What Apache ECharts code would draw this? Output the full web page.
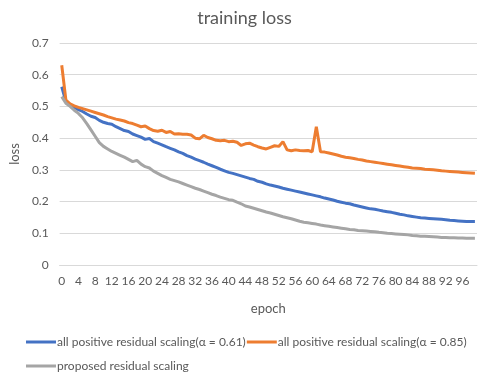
<!DOCTYPE html>
<html>
<head>
<meta charset="utf-8">
<script src="https://cdn.jsdelivr.net/npm/echarts@6/dist/echarts.min.js"></script>
<style>
html, body { margin: 0; padding: 0; background: #fff; }
#main { width: 489px; height: 378px; }
</style>
</head>
<body>
<div id="main"></div>
<script>
// 数据
var epochs = [];
for (var e = 0; e < 100; e++) epochs.push(String(e));

var blueName = 'all positive residual scaling(α = 0.61)';
var orangeName = 'all positive residual scaling(α = 0.85)';
var grayName = 'proposed residual scaling';

var blueLoss = [
  0.562, 0.515, 0.503, 0.497, 0.490, 0.484, 0.476, 0.469, 0.465, 0.456,
  0.450, 0.446, 0.444, 0.436, 0.430, 0.424, 0.421, 0.413, 0.408, 0.403,
  0.396, 0.399, 0.389, 0.384, 0.379, 0.373, 0.368, 0.363, 0.357, 0.352,
  0.345, 0.340, 0.334, 0.329, 0.324, 0.318, 0.313, 0.308, 0.302, 0.297,
  0.292, 0.289, 0.285, 0.281, 0.277, 0.273, 0.270, 0.264, 0.261, 0.256,
  0.252, 0.249, 0.246, 0.242, 0.239, 0.236, 0.233, 0.230, 0.227, 0.224,
  0.221, 0.218, 0.215, 0.211, 0.208, 0.205, 0.201, 0.198, 0.195, 0.193,
  0.189, 0.186, 0.183, 0.180, 0.177, 0.176, 0.173, 0.170, 0.168, 0.166,
  0.163, 0.160, 0.158, 0.155, 0.153, 0.151, 0.149, 0.148, 0.147, 0.146,
  0.145, 0.144, 0.143, 0.141, 0.140, 0.139, 0.138, 0.137, 0.137, 0.137
];

var orangeLoss = [
  0.630, 0.520, 0.508, 0.502, 0.497, 0.493, 0.489, 0.485, 0.481, 0.477,
  0.473, 0.468, 0.464, 0.460, 0.457, 0.454, 0.449, 0.446, 0.441, 0.436,
  0.438, 0.430, 0.424, 0.422, 0.425, 0.418, 0.421, 0.413, 0.414, 0.412,
  0.412, 0.410, 0.400, 0.398, 0.409, 0.402, 0.398, 0.393, 0.392, 0.393,
  0.389, 0.390, 0.387, 0.377, 0.382, 0.384, 0.378, 0.373, 0.369, 0.366,
  0.371, 0.376, 0.374, 0.389, 0.363, 0.360, 0.363, 0.361, 0.360, 0.361,
  0.357, 0.436, 0.357, 0.356, 0.353, 0.350, 0.347, 0.343, 0.340, 0.338,
  0.336, 0.333, 0.331, 0.328, 0.326, 0.324, 0.322, 0.320, 0.318, 0.316,
  0.314, 0.312, 0.310, 0.308, 0.306, 0.305, 0.304, 0.302, 0.301, 0.300,
  0.299, 0.297, 0.296, 0.295, 0.294, 0.293, 0.292, 0.291, 0.290, 0.289
];

var grayLoss = [
  0.531, 0.510, 0.500, 0.488, 0.478, 0.464, 0.446, 0.426, 0.406, 0.386,
  0.374, 0.366, 0.358, 0.352, 0.346, 0.340, 0.333, 0.326, 0.330, 0.318,
  0.310, 0.306, 0.296, 0.289, 0.282, 0.276, 0.270, 0.266, 0.262, 0.257,
  0.252, 0.247, 0.242, 0.238, 0.233, 0.228, 0.223, 0.219, 0.214, 0.210,
  0.206, 0.204, 0.198, 0.193, 0.186, 0.183, 0.179, 0.175, 0.171, 0.167,
  0.164, 0.160, 0.156, 0.152, 0.149, 0.146, 0.142, 0.138, 0.135, 0.133,
  0.131, 0.129, 0.126, 0.124, 0.122, 0.120, 0.118, 0.116, 0.114, 0.112,
  0.111, 0.109, 0.108, 0.107, 0.106, 0.105, 0.103, 0.102, 0.100, 0.099,
  0.098, 0.097, 0.096, 0.095, 0.093, 0.092, 0.091, 0.091, 0.090, 0.089,
  0.088, 0.087, 0.087, 0.086, 0.086, 0.085, 0.085, 0.084, 0.084, 0.084
];

var yTicks = { min: 0, max: 0.7, step: 0.1 };

var font = 'Lato, "Liberation Sans", sans-serif';
var textGray = '#595959';

var legendText = { fontFamily: font, fontSize: 12, color: textGray, padding: [0, 0, 0, -4] };

var myChart = echarts.init(document.getElementById('main'));
myChart.setOption({
  animation: false,
  title: {
    text: 'training loss',
    left: 'center',
    top: 4,
    textStyle: { fontFamily: font, fontSize: 18, fontWeight: 'normal', color: textGray }
  },
  legend: [
    {
      data: [blueName, orangeName],
      left: 21,
      top: 331,
      icon: 'rect',
      itemWidth: 30,
      itemHeight: 3,
      itemGap: 1,
      textStyle: legendText
    },
    {
      data: [grayName],
      left: 21,
      top: 355,
      icon: 'rect',
      itemWidth: 30,
      itemHeight: 3,
      textStyle: legendText
    }
  ],
  grid: { left: 58, right: 12, top: 43, height: 222 },
  xAxis: {
    type: 'category',
    data: epochs,
    name: 'epoch',
    nameLocation: 'middle',
    nameGap: 37,
    nameTextStyle: { fontFamily: font, fontSize: 13, color: textGray },
    axisLine: { lineStyle: { color: '#d9d9d9' } },
    axisTick: { show: false },
    axisLabel: {
      interval: 3,
      margin: 10,
      fontFamily: font, fontSize: 12, color: textGray
    }
  },
  yAxis: {
    type: 'value',
    min: yTicks.min,
    max: yTicks.max,
    interval: yTicks.step,
    name: 'loss',
    nameLocation: 'middle',
    nameGap: 38,
    nameTextStyle: { fontFamily: font, fontSize: 13, color: textGray },
    axisLine: { show: false },
    axisTick: { show: false },
    splitLine: { lineStyle: { color: '#d9d9d9', width: 1 } },
    axisLabel: {
      margin: 11,
      fontFamily: font, fontSize: 12, color: textGray
    }
  },
  series: [
    {
      name: blueName, type: 'line', data: blueLoss, symbol: 'none',
      lineStyle: { width: 3, color: '#4472C4' }, itemStyle: { color: '#4472C4' }
    },
    {
      name: orangeName, type: 'line', data: orangeLoss, symbol: 'none',
      lineStyle: { width: 3, color: '#ED7D31' }, itemStyle: { color: '#ED7D31' }
    },
    {
      name: grayName, type: 'line', data: grayLoss, symbol: 'none',
      lineStyle: { width: 3, color: '#A5A5A5' }, itemStyle: { color: '#A5A5A5' }
    }
  ]
});
</script>
</body>
</html>
